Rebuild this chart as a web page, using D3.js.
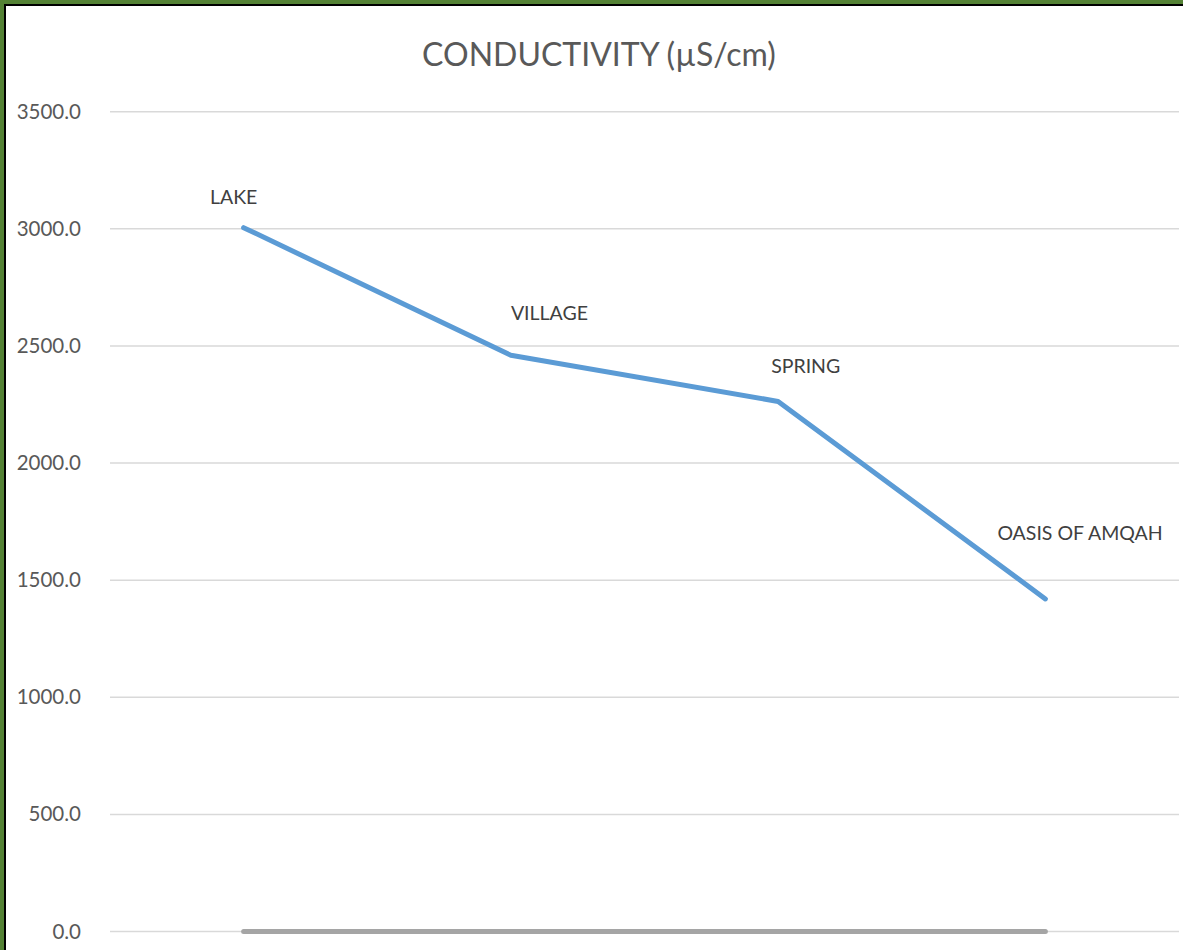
<!DOCTYPE html>
<html>
<head>
<meta charset="utf-8">
<script src="https://cdn.jsdelivr.net/npm/d3@7"></script>
<style>
  html, body { margin: 0; padding: 0; background: #fff; }
  svg { display: block; }
</style>
</head>
<body>
<svg id="chart" width="1183" height="950"></svg>
<script>
// Sampling sites and measured conductivity
const categories = ["LAKE", "VILLAGE", "SPRING", "OASIS OF AMQAH"];
const conductivity = [3005, 2460, 2263, 1420];
const baselineSeries = [0, 0, 0, 0];
const yTicks = [0, 500, 1000, 1500, 2000, 2500, 3000, 3500];
const titleText = "CONDUCTIVITY (µS/cm)";

// Data-label placement relative to each point (dx, dy, anchor)
const labelOffsets = [
  { dx: -10, dy: -24, anchor: "middle" },
  { dx: 0, dy: -35, anchor: "start" },
  { dx: -7, dy: -28, anchor: "start" },
  { dx: -48, dy: -59, anchor: "start" }
];

const W = 1183, H = 950;
const svg = d3.select("#chart");
const font = "Lato, 'Open Sans', sans-serif";

// Frame: green outer band, thin black line, white chart area
svg.append("rect").attr("x", 0).attr("y", 0).attr("width", W).attr("height", H).attr("fill", "#548235");
svg.append("rect").attr("x", 4).attr("y", 4).attr("width", W - 4).attr("height", H - 4).attr("fill", "#000");
svg.append("rect").attr("x", 6).attr("y", 6).attr("width", W - 6).attr("height", H - 6).attr("fill", "#fff");

const plot = { left: 110, right: 1179, top: 111.7, bottom: 931.5 };

const x = d3.scalePoint()
  .domain(categories)
  .range([plot.left, plot.right])
  .padding(0.5);

const y = d3.scaleLinear()
  .domain([0, 3500])
  .range([plot.bottom, plot.top]);

// Horizontal gridlines
svg.append("g")
  .selectAll("line")
  .data(yTicks)
  .join("line")
  .attr("x1", plot.left)
  .attr("x2", plot.right)
  .attr("y1", d => y(d))
  .attr("y2", d => y(d))
  .attr("stroke", "#d9d9d9")
  .attr("stroke-width", 1.5);

// Y axis labels
const yAxis = d3.axisLeft(y)
  .tickValues(yTicks)
  .tickFormat(d3.format(".1f"))
  .tickSize(0)
  .tickPadding(0);

const yg = svg.append("g")
  .attr("transform", `translate(81,0)`)
  .call(yAxis);
yg.select(".domain").remove();
yg.selectAll("text")
  .attr("fill", "#595959")
  .attr("font-family", font)
  .attr("font-size", 20.5);

// Title
svg.append("text")
  .attr("x", 599)
  .attr("y", 66)
  .attr("text-anchor", "middle")
  .attr("font-family", font)
  .attr("font-size", 32)
  .attr("fill", "#595959")
  .text(titleText);

const line = d3.line()
  .x((d, i) => x(categories[i]))
  .y(d => y(d));

// Zero series along the baseline
svg.append("path")
  .datum(baselineSeries)
  .attr("d", line)
  .attr("fill", "none")
  .attr("stroke", "#a5a5a5")
  .attr("stroke-width", 5)
  .attr("stroke-linecap", "round");

// Conductivity series
svg.append("path")
  .datum(conductivity)
  .attr("d", line)
  .attr("fill", "none")
  .attr("stroke", "#5b9bd5")
  .attr("stroke-width", 5)
  .attr("stroke-linejoin", "round")
  .attr("stroke-linecap", "round");

// Category data labels
svg.append("g")
  .selectAll("text")
  .data(conductivity)
  .join("text")
  .attr("x", (d, i) => x(categories[i]) + labelOffsets[i].dx)
  .attr("y", (d, i) => y(d) + labelOffsets[i].dy)
  .attr("text-anchor", (d, i) => labelOffsets[i].anchor)
  .attr("font-family", font)
  .attr("font-size", 19.5)
  .attr("fill", "#404040")
  .text((d, i) => categories[i]);
</script>
</body>
</html>
